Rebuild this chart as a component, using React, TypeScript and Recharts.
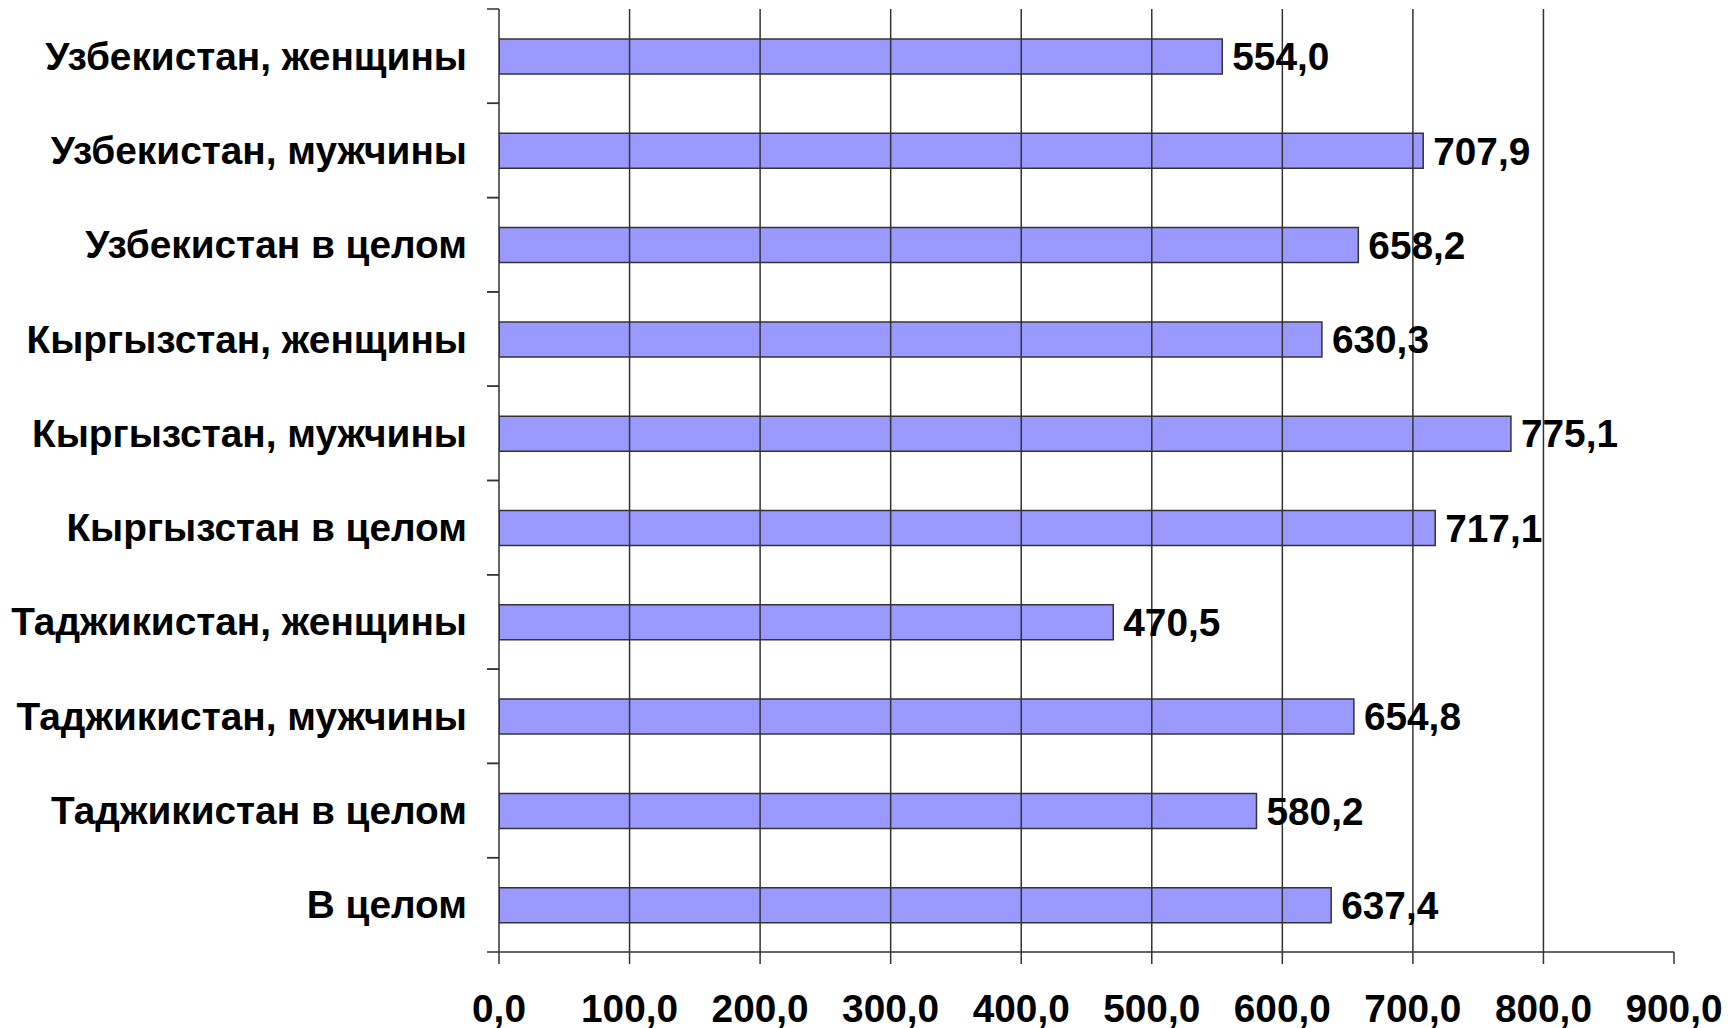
import React from 'react';
import { BarChart, Bar, XAxis, YAxis, ReferenceLine, LabelList } from 'recharts';

const categories = [
  'Узбекистан, женщины',
  'Узбекистан, мужчины',
  'Узбекистан в целом',
  'Кыргызстан, женщины',
  'Кыргызстан, мужчины',
  'Кыргызстан в целом',
  'Таджикистан, женщины',
  'Таджикистан, мужчины',
  'Таджикистан в целом',
  'В целом',
];
const values = [554.0, 707.9, 658.2, 630.3, 775.1, 717.1, 470.5, 654.8, 580.2, 637.4];
const xTicks = [0, 100, 200, 300, 400, 500, 600, 700, 800, 900];
const gridValues = [100, 200, 300, 400, 500, 600, 700, 800];

const data = categories.map((name, i) => ({ name, value: values[i] }));

const W = 1732;
const H = 1028;
const MARGIN = { top: 9, right: 58, bottom: 0, left: 0 };
const Y_W = 499;
const X_H = 76;
const PLOT_H = H - MARGIN.top - MARGIN.bottom - X_H;
const BAND = PLOT_H / categories.length;
const FONT = '"Liberation Sans", Arial, sans-serif';
const FS = 38.8;
const LINE = '#333333';

const fmt = (v: number) => Number(v).toFixed(1).replace('.', ',');

const YTick = (props: any) => {
  const { x, y, payload } = props;
  return (
    <g>
      <line x1={x - 12} x2={x} y1={y - BAND / 2} y2={y - BAND / 2} stroke={LINE} strokeWidth={1.5} />
      <line x1={x - 12} x2={x} y1={y + BAND / 2} y2={y + BAND / 2} stroke={LINE} strokeWidth={1.5} />
      <text
        x={x - 32}
        y={y}
        textAnchor="end"
        dominantBaseline="central"
        fontFamily={FONT}
        fontWeight="bold"
        fontSize={FS}
        fill="#000"
      >
        {payload.value}
      </text>
    </g>
  );
};

const XTick = (props: any) => {
  const { x, y, payload } = props;
  return (
    <text
      x={x}
      y={y + 44}
      textAnchor="middle"
      dominantBaseline="central"
      fontFamily={FONT}
      fontWeight="bold"
      fontSize={FS}
      fill="#000"
    >
      {fmt(payload.value)}
    </text>
  );
};

export default function App() {
  return (
    <div style={{ position: 'absolute', left: 0, top: 0, width: W, height: H, background: '#fff' }}>
      <BarChart width={W} height={H} data={data} layout="vertical" margin={MARGIN}>
        {gridValues.map((v) => (
          <ReferenceLine key={v} x={v} stroke={LINE} strokeWidth={1.5} ifOverflow="visible" />
        ))}
        <XAxis
          type="number"
          domain={[0, 900]}
          ticks={xTicks}
          interval={0}
          height={X_H}
          tickSize={12}
          tickMargin={0}
          axisLine={{ stroke: LINE, strokeWidth: 1.5 }}
          tickLine={{ stroke: LINE, strokeWidth: 1.5 }}
          tick={<XTick />}
          allowDataOverflow
        />
        <YAxis
          type="category"
          dataKey="name"
          width={Y_W}
          interval={0}
          tickSize={0}
          tickMargin={0}
          tickLine={false}
          axisLine={{ stroke: LINE, strokeWidth: 1.5 }}
          tick={<YTick />}
        />
        <Bar dataKey="value" fill="#9999FF" stroke={LINE} strokeWidth={1.5} barSize={35} isAnimationActive={false}>
          <LabelList
            dataKey="value"
            position="right"
            offset={10}
            formatter={(v: any) => fmt(v)}
            fontFamily={FONT}
            fontWeight="bold"
            fontSize={FS}
            fill="#000"
          />
        </Bar>
      </BarChart>
    </div>
  );
}
